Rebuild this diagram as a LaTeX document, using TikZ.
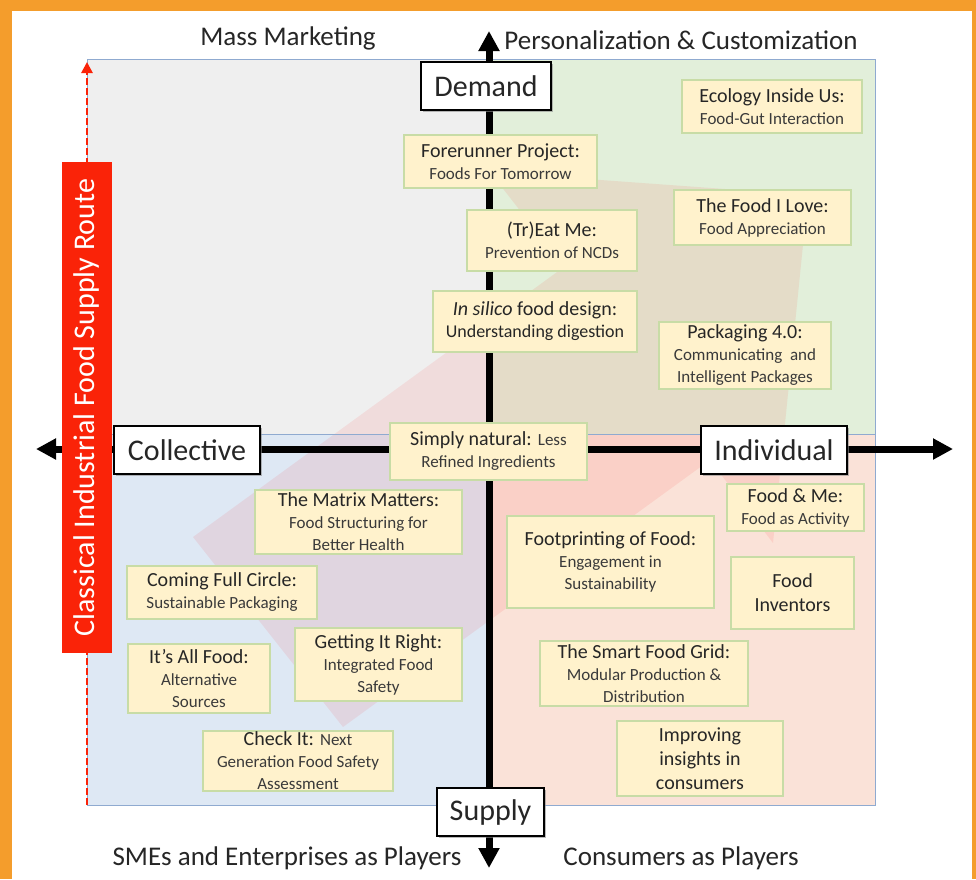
\documentclass[tikz,border=0pt]{standalone}
\usepackage{fontspec}
\setmainfont{Carlito}
\usetikzlibrary{arrows.meta,shadows}
\definecolor{frameorange}{HTML}{F49D2C}
\definecolor{qgray}{HTML}{EFEFEF}
\definecolor{qgreen}{HTML}{E2EFDA}
\definecolor{qblue}{HTML}{DEE8F4}
\definecolor{qsalmon}{HTML}{FAE2D8}
\definecolor{qline}{HTML}{8FAAD0}
\definecolor{boxfill}{HTML}{FFF2CC}
\definecolor{boxedge}{HTML}{C8DCA6}
\definecolor{titlegray}{HTML}{262626}
\definecolor{subgray}{HTML}{3A3A3A}
\definecolor{routered}{HTML}{FA2308}
\newcommand\mytitle{\fontsize{20}{22}\selectfont}
\newcommand\mysub{\fontsize{17}{20}\selectfont\color{subgray}}
\tikzset{
  cbox/.style={draw=boxedge, line width=1.2pt, fill=boxfill, align=center, inner sep=0pt, font=\mytitle, text=titlegray},
  axlab/.style={draw=black, line width=1.4pt, fill=white, inner sep=0pt, font=\fontsize{30}{30}\selectfont, text=black!85,
    drop shadow={shadow xshift=1.5pt, shadow yshift=-1.5pt, fill=black!45, opacity=0.6}},
  axisline/.style={line width=7pt, {Triangle[length=20pt,width=20pt]}-{Triangle[length=20pt,width=20pt]}},
  sidelab/.style={font=\fontsize{27}{27}\selectfont, text=black!85, inner sep=0pt},
}
\begin{document}
\begin{tikzpicture}[x=1pt,y=-1pt]
\useasboundingbox (0,0) rectangle (976,879);
\fill[frameorange] (0,0) rectangle (976,879);
\fill[white] (12,11) rectangle (972,879);
% quadrants
\fill[qgray] (87,59) rectangle (489,434);
\fill[qgreen] (489,59) rectangle (875,434);
\fill[qblue] (87,434) rectangle (489,805);
\fill[qsalmon] (489,434) rectangle (875,805);
% big faint arrow
\fill[red, opacity=0.08] (193,537) -- (564,267) -- (490,172) -- (808,195) -- (773,543) -- (710,460) -- (343,727) -- cycle;
\draw[qline, line width=1pt] (87,59) rectangle (875,434);
\draw[qline, line width=1pt] (87,434) rectangle (875,805);
% axes
\coordinate (ytop) at (489,31);
\coordinate (ybot) at (489,868);
\coordinate (xleft) at (36,449);
\coordinate (xright) at (953,449);
\draw[axisline] (ybot) -- (ytop);
\draw[axisline] (xleft) -- (xright);
% red dashed route arrow
\coordinate (rbot) at (87,805);
\coordinate (rtop) at (87,62);
\draw[routered, line width=2.6pt, dash pattern=on 7pt off 3pt, -{Triangle[length=11pt,width=11pt]}] (rbot) -- (rtop);
\node[fill=routered, rotate=90, minimum width=491pt, minimum height=50pt, inner sep=0pt, text=white, font=\fontsize{30}{30}\selectfont] (route) at (87,407.5) {Classical Industrial Food Supply Route};
% axis labels
\node[axlab, minimum width=130pt, minimum height=48pt] (demand) at (486,86) {Demand};
\node[axlab, minimum width=146pt, minimum height=48pt] (collective) at (187,450) {Collective};
\node[axlab, minimum width=146pt, minimum height=48pt] (individual) at (774,450) {Individual};
\node[axlab, minimum width=107pt, minimum height=48pt] (supply) at (490.5,812) {Supply};
% side labels
\node[sidelab] (mass) at (288,38) {Mass Marketing};
\node[sidelab] (perso) at (681,40) {Personalization \& Customization};
\node[sidelab] (smes) at (287,858) {SMEs and Enterprises as Players};
\node[sidelab] (consumers) at (681,858) {Consumers as Players};
% content boxes
\node[cbox, minimum width=193pt, minimum height=53pt] (fore) at (500.5,161.5) {Forerunner Project:\\{\mysub Foods For Tomorrow}};
\node[cbox, minimum width=170pt, minimum height=61pt] (treat) at (552,240.5) {(Tr)Eat Me:\\{\mysub Prevention of NCDs}};
\node[cbox, minimum width=204pt, minimum height=61pt] (silico) at (535,321.5) {\textit{In silico} food design:\\{\fontsize{18}{20}\selectfont Understanding digestion}};
\node[cbox, minimum width=180pt, minimum height=53pt] (eco) at (772,106.5) {Ecology Inside Us:\\{\mysub Food-Gut Interaction}};
\node[cbox, minimum width=177pt, minimum height=55pt] (love) at (762.5,217.5) {The Food I Love:\\{\mysub Food Appreciation}};
\node[cbox, minimum width=172pt, minimum height=67pt] (pack) at (745,355.5) {Packaging 4.0:\\{\mysub Communicating~~and}\\{\mysub Intelligent Packages}};
\node[cbox, minimum width=197pt, minimum height=57pt] (simply) at (488.5,451.5) {Simply natural: {\mysub Less}\\{\mysub Refined Ingredients}};
\node[cbox, minimum width=207pt, minimum height=64pt] (matrix) at (358.5,522) {The Matrix Matters:\\{\mysub Food Structuring for}\\{\mysub Better Health}};
\node[cbox, minimum width=190pt, minimum height=53pt] (circle) at (222,592.5) {Coming Full Circle:\\{\mysub Sustainable Packaging}};
\node[cbox, minimum width=142pt, minimum height=69pt] (allfood) at (199,678.5) {It’s All Food:\\{\mysub Alternative}\\{\mysub Sources}};
\node[cbox, minimum width=167pt, minimum height=73pt] (right) at (378.5,664.5) {Getting It Right:\\{\mysub Integrated Food}\\{\mysub Safety}};
\node[cbox, minimum width=190pt, minimum height=60pt] (check) at (298,761) {Check It: {\mysub Next}\\{\mysub Generation Food Safety}\\{\mysub Assessment}};
\node[cbox, minimum width=137pt, minimum height=47pt] (foodme) at (795.5,507.5) {Food \& Me:\\{\mysub Food as Activity}};
\node[cbox, minimum width=207pt, minimum height=92pt] (foot) at (610.5,562) {Footprinting of Food:\\{\mysub Engagement in}\\{\mysub Sustainability}};
\node[cbox, minimum width=123pt, minimum height=72pt] (invent) at (792.5,593) {Food\\[2pt]Inventors};
\node[cbox, minimum width=208pt, minimum height=65pt] (grid) at (644,673.5) {The Smart Food Grid:\\{\mysub Modular Production \&}\\{\mysub Distribution}};
\node[cbox, minimum width=166pt, minimum height=75pt] (improve) at (700,758.5) {Improving\\[2pt]insights in\\[2pt]consumers};
\end{tikzpicture}
\end{document}
